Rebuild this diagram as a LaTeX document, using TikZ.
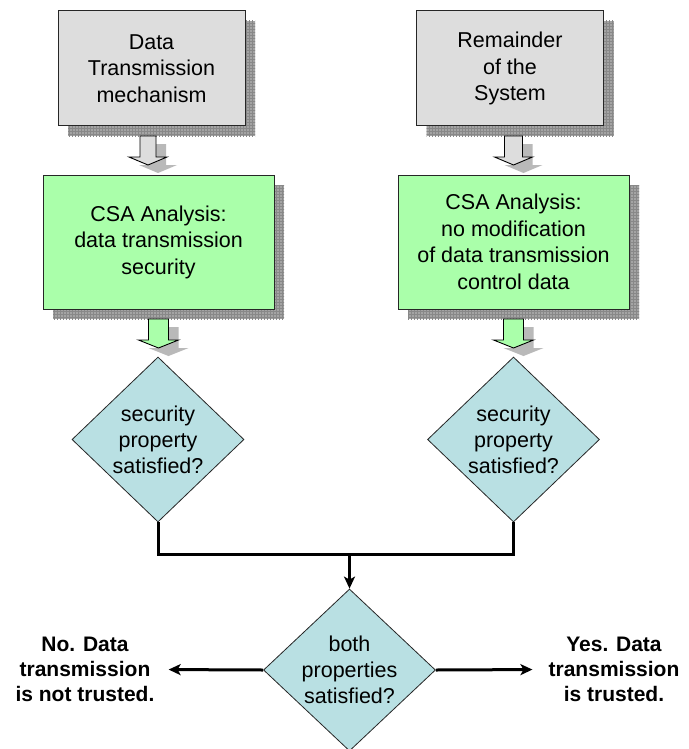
\documentclass[tikz,border=0pt]{standalone}
\usepackage{fontspec}
\setmainfont{Liberation Sans}
\usetikzlibrary{shapes.geometric,arrows.meta,shadows,calc,patterns}
\definecolor{boxgray}{HTML}{DDDDDD}
\definecolor{boxgreen}{HTML}{AAFFAA}
\definecolor{dblue}{HTML}{B9E0E3}
\definecolor{shadowgray}{HTML}{A4A4A4}
\definecolor{gridgray}{HTML}{888888}
\tikzset{
  basebox/.style={draw=black!85, line width=1pt, align=center,
    font=\fontsize{21.5}{26.5}\selectfont, inner sep=0pt,
    drop shadow={shadow xshift=10pt, shadow yshift=-10pt, opacity=1, fill=shadowgray,
      postaction={pattern=grid, pattern color=gridgray}}},
  graybox/.style={basebox, fill=boxgray, minimum width=187pt, minimum height=115pt},
  greenbox/.style={basebox, fill=boxgreen, minimum width=231pt, minimum height=134pt},
  decision/.style={diamond, draw=black!85, line width=0.8pt, fill=dblue, align=center,
    font=\fontsize{21.5}{26}\selectfont, inner sep=0pt, aspect=1.04,
    minimum width=172pt, minimum height=165pt},
  conn/.style={line width=3pt},
  tipped/.style={-{Stealth[length=12pt,width=11pt,inset=3pt]}},
  result/.style={align=center, font=\bfseries\fontsize{21}{25}\selectfont, inner sep=3pt},
  blockarrow/.style={draw=black, line width=0.9pt, line join=miter},
  arrshadow/.style={fill=gray!55},
}
\newcommand{\blkarr}[7]{%
  \begin{scope}[shift={(#1,0)}]
    \fill[arrshadow] (10-#5,#2+8) -- (10+#5,#2+8) -- (10+#5,#3+8) -- (10+#6,#3+8) -- (10,#4+8) -- (10-#6,#3+8) -- (10-#5,#3+8) -- cycle;
    \draw[blockarrow,fill=#7] (-#5,#2) -- (#5,#2) -- (#5,#3) -- (#6,#3) -- (0,#4) -- (-#6,#3) -- (-#5,#3) -- cycle;
  \end{scope}}
\begin{document}
\begin{tikzpicture}[x=1pt,y=-1pt]
  \fill[white] (0,0) rectangle (688,749);
  \useasboundingbox (0,0) rectangle (688,749);

  \node[graybox] (g1) at (151.5,68.5) {Data\\Transmission\\mechanism};
  \node[graybox] (g2) at (510,68.5) {Remainder\\of the\\System};
  \node[greenbox] (c1) at (158.5,242) {CSA Analysis:\\data transmission\\security};
  \node[greenbox] (c2) at (513.5,242) {CSA Analysis:\\no modification\\of data transmission\\control data};

  \blkarr{148}{136}{157}{165}{8}{19}{boxgray}
  \blkarr{513.5}{136}{157}{165}{9}{19}{boxgray}
  \blkarr{158.5}{319}{340}{348}{10}{20}{boxgreen}
  \blkarr{513.5}{319}{340}{348}{10}{20}{boxgreen}

  \node[decision] (d1) at (158,439.5) {security\\property\\satisfied?};
  \node[decision] (d2) at (513.5,439.5) {security\\property\\satisfied?};
  \node[decision, minimum height=162pt] (d3) at (349.5,670) {both\\properties\\satisfied?};

  \node[result] (no) at (85,669.5) {No. Data\\transmission\\is not trusted.};
  \node[result] (yes) at (614,669.5) {Yes. Data\\transmission\\is trusted.};

  \coordinate (j) at (349.5,554);
  \draw[conn] (d1.south) -- (d1.south |- j) -| (d2.south);
  \draw[conn,tipped] (j) -- (d3.north);
  \draw[conn,tipped,shorten >=11pt] (d3.west) -- (no.east);
  \draw[conn,tipped,shorten >=13pt] (d3.east) -- (yes.west);
\end{tikzpicture}
\end{document}
